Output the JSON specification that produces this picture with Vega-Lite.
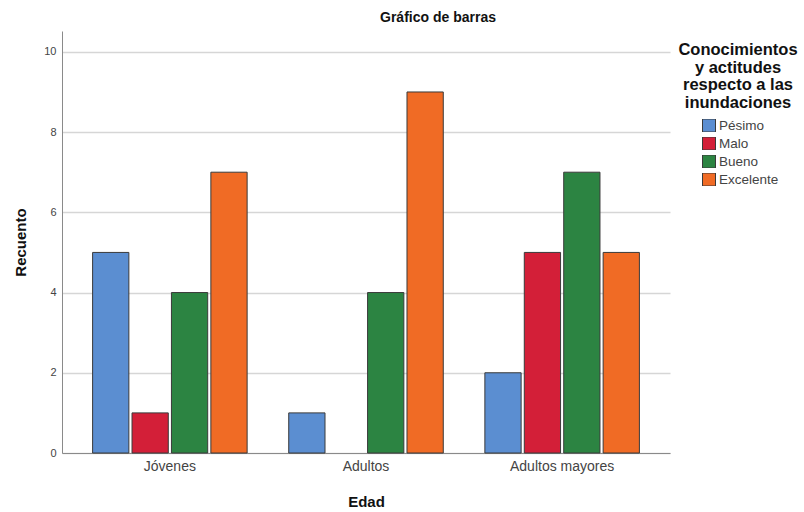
{
  "$schema": "https://vega.github.io/schema/vega-lite/v6.json",
  "autosize": "none",
  "width": 608,
  "height": 422,
  "padding": {"left": 62, "top": 31, "right": 134, "bottom": 59},
  "background": "white",
  "config": {
    "font": "Liberation Sans",
    "view": {"stroke": null}
  },
  "title": {
    "text": "Gráfico de barras",
    "fontSize": 14,
    "fontWeight": "bold",
    "color": "#111",
    "anchor": "middle",
    "frame": "group",
    "dx": 72,
    "offset": 6
  },
  "data": {
    "values": [
      {"Edad": "Jóvenes", "Nivel": "Pésimo", "Recuento": 5},
      {"Edad": "Jóvenes", "Nivel": "Malo", "Recuento": 1},
      {"Edad": "Jóvenes", "Nivel": "Bueno", "Recuento": 4},
      {"Edad": "Jóvenes", "Nivel": "Excelente", "Recuento": 7},
      {"Edad": "Adultos", "Nivel": "Pésimo", "Recuento": 1},
      {"Edad": "Adultos", "Nivel": "Bueno", "Recuento": 4},
      {"Edad": "Adultos", "Nivel": "Excelente", "Recuento": 9},
      {"Edad": "Adultos mayores", "Nivel": "Pésimo", "Recuento": 2},
      {"Edad": "Adultos mayores", "Nivel": "Malo", "Recuento": 5},
      {"Edad": "Adultos mayores", "Nivel": "Bueno", "Recuento": 7},
      {"Edad": "Adultos mayores", "Nivel": "Excelente", "Recuento": 5}
    ]
  },
  "mark": {"type": "bar", "stroke": "#3a3a3a", "strokeWidth": 1},
  "encoding": {
    "x": {
      "field": "Edad",
      "type": "nominal",
      "sort": ["Jóvenes", "Adultos", "Adultos mayores"],
      "scale": {"paddingInner": 0.2, "paddingOuter": 0.15},
      "axis": {
        "title": "Edad",
        "titleFontSize": 15,
        "titleFontWeight": "bold",
        "titleColor": "#111",
        "titlePadding": 21,
        "labelAngle": 0,
        "labelFontSize": 14,
        "labelColor": "#444",
        "labelPadding": 6,
        "ticks": false,
        "domainColor": "#8a8a8a",
        "grid": false
      }
    },
    "xOffset": {
      "field": "Nivel",
      "type": "nominal",
      "sort": ["Pésimo", "Malo", "Bueno", "Excelente"],
      "scale": {"paddingInner": 0.08, "paddingOuter": 0.03}
    },
    "y": {
      "field": "Recuento",
      "type": "quantitative",
      "scale": {"domain": [0, 10.52], "nice": false},
      "axis": {
        "title": "Recuento",
        "titleFontSize": 15,
        "titleFontWeight": "bold",
        "titleColor": "#111",
        "titlePadding": 15,
        "values": [0, 2, 4, 6, 8, 10],
        "labelFontSize": 11,
        "labelColor": "#444",
        "labelPadding": 6,
        "ticks": false,
        "domainColor": "#8a8a8a",
        "gridColor": "#d6d6d6",
        "gridWidth": 1.5
      }
    },
    "color": {
      "field": "Nivel",
      "type": "nominal",
      "sort": ["Pésimo", "Malo", "Bueno", "Excelente"],
      "scale": {
        "domain": ["Pésimo", "Malo", "Bueno", "Excelente"],
        "range": ["#5b8ed1", "#d31f38", "#2c8442", "#f06b25"]
      },
      "legend": {
        "title": ["Conocimientos", "y actitudes", "respecto a las", "inundaciones"],
        "orient": "none",
        "legendX": 616,
        "legendY": 11,
        "titleFontSize": 16.5,
        "titleFontWeight": "bold",
        "titleColor": "#111",
        "titleLineHeight": 17.5,
        "titleAnchor": "middle",
        "titleAlign": "center",
        "titlePadding": 8,
        "symbolType": "square",
        "symbolSize": 169,
        "symbolStrokeColor": "#3a3a3a",
        "symbolStrokeWidth": 1,
        "symbolOffset": 5,
        "labelFontSize": 13.5,
        "labelColor": "#444",
        "labelOffset": 3,
        "clipHeight": 13,
        "rowPadding": 4
      }
    }
  }
}
